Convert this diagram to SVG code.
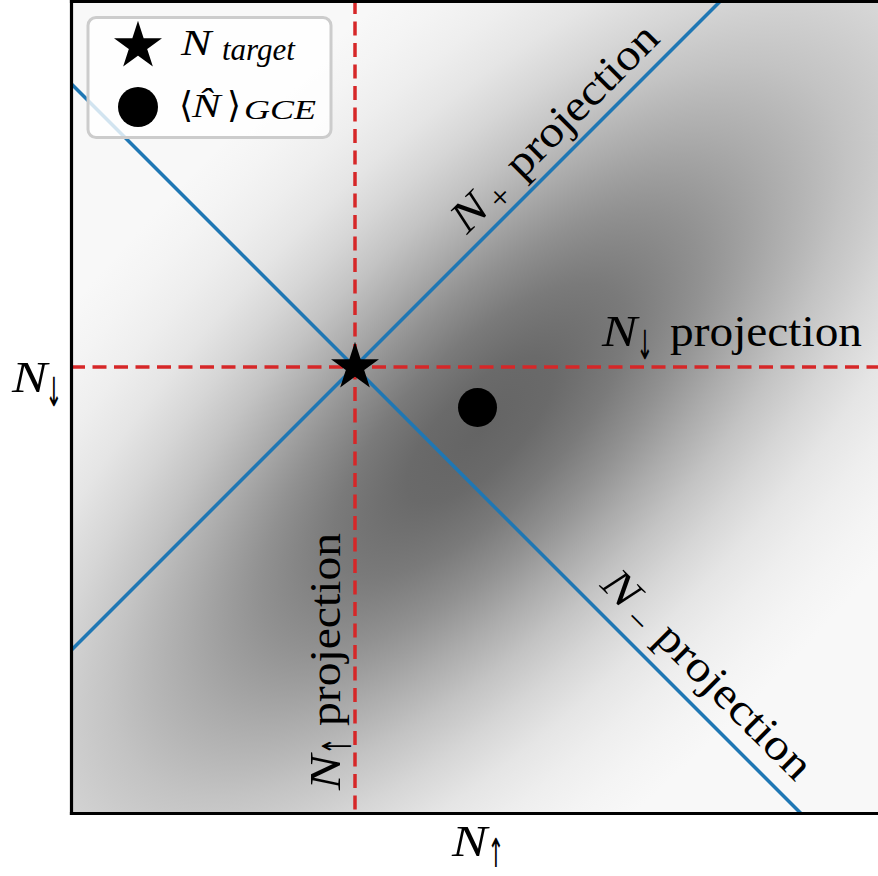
<svg xmlns="http://www.w3.org/2000/svg" width="878" height="876" viewBox="0 0 878 876">
<style>
text{font-family:"Liberation Serif","Times New Roman",serif}
.i{font-style:italic}
.ar{font-family:"DejaVu Sans",sans-serif}
.blue{stroke:#1f77b4;stroke-width:3.5;fill:none}
.red{stroke:#d62728;stroke-width:3.5;fill:none;stroke-dasharray:14 7.5}
.spine{stroke:#000;stroke-width:3.2;fill:none;stroke-linecap:square}
</style>
<defs>
<radialGradient id="g" gradientUnits="userSpaceOnUse" cx="0" cy="0" r="1" gradientTransform="translate(480 430) rotate(-45) scale(962 385)">
<stop offset="0" stop-color="#646464"/>
<stop offset="0.1" stop-color="#6a6a6a"/>
<stop offset="0.2" stop-color="#7a7a7a"/>
<stop offset="0.3" stop-color="#919191"/>
<stop offset="0.4" stop-color="#ababab"/>
<stop offset="0.5" stop-color="#c3c3c3"/>
<stop offset="0.6" stop-color="#d6d6d6"/>
<stop offset="0.7" stop-color="#e5e5e5"/>
<stop offset="0.8" stop-color="#eeeeee"/>
<stop offset="0.9" stop-color="#f4f4f4"/>
<stop offset="1" stop-color="#f8f8f8"/>
</radialGradient>
<clipPath id="ax"><rect x="71" y="1.5" width="807" height="812"/></clipPath>
<polygon id="star" points="0,-22 4.94,-6.8 20.92,-6.8 7.99,2.6 12.93,17.8 0,8.4 -12.93,17.8 -7.99,2.6 -20.92,-6.8 -4.94,-6.8" fill="#000" stroke="#000" stroke-width="2" stroke-linejoin="miter"/>
</defs>
<rect width="878" height="876" fill="#fff"/>
<rect id="density" x="71" y="1.5" width="807" height="812" fill="url(#g)"/>
<g id="connectors" clip-path="url(#ax)">
<line id="nplus-line" class="blue" x1="71" y1="650.5" x2="721.5" y2="0"/>
<line id="nminus-line" class="blue" x1="71" y1="83.5" x2="801.5" y2="814"/>
<line id="ndown-line" class="red" x1="71" y1="367" x2="878" y2="367"/>
<line id="nup-line" class="red" x1="355" y1="0" x2="355" y2="813"/>
</g>
<g id="target"><use href="#star" x="355" y="367"/></g>
<g id="gce"><circle cx="477.5" cy="407.5" r="19.5" fill="#000"/></g>
<g id="label-ndown-proj" transform="translate(602 346)">
<text class="i" transform="scale(1.2 1)" font-size="44">N</text>
<text class="ar" transform="translate(43 13) scale(0.5 1)" text-anchor="middle" font-size="40">↓</text>
<text x="68" y="0" font-size="44" textLength="192" lengthAdjust="spacingAndGlyphs">projection</text>
</g>
<g id="label-nup-proj" transform="translate(340 790) rotate(-90)">
<text class="i" transform="scale(1.2 1)" font-size="44">N</text>
<text class="ar" transform="translate(44 11) scale(0.5 1)" text-anchor="middle" font-size="40">↑</text>
<text x="64" y="0" font-size="44" textLength="193" lengthAdjust="spacingAndGlyphs">projection</text>
</g>
<g id="label-nplus-proj" transform="translate(467 235) rotate(-45)">
<text class="i" transform="scale(1.2 1)" font-size="44">N</text>
<text x="50" y="8" font-size="34" text-anchor="middle">+</text>
<text x="77" y="0" font-size="44" textLength="198" lengthAdjust="spacingAndGlyphs">projection</text>
</g>
<g id="label-nminus-proj" transform="translate(599 586) rotate(45)">
<text class="i" transform="scale(1.2 1)" font-size="44">N</text>
<text x="52" y="9" font-size="34" text-anchor="middle">−</text>
<text x="76" y="0" font-size="44" textLength="202" lengthAdjust="spacingAndGlyphs">projection</text>
</g>
<g id="axis-y" transform="translate(12 392)">
<text class="i" transform="scale(1.2 1)" font-size="44">N</text>
<text class="ar" transform="translate(42 14) scale(0.5 1)" text-anchor="middle" font-size="40">↓</text>
</g>
<g id="axis-x" transform="translate(452 856)">
<text class="i" transform="scale(1.2 1)" font-size="44">N</text>
<text class="ar" transform="translate(44 11) scale(0.5 1)" text-anchor="middle" font-size="40">↑</text>
</g>
<g id="spines">
<line class="spine" x1="71.5" y1="1.5" x2="71.5" y2="813.5"/>
<line class="spine" x1="71.5" y1="1.5" x2="880" y2="1.5"/>
<line class="spine" x1="71.5" y1="813.5" x2="880" y2="813.5"/>
</g>
<g id="legend">
<rect x="88" y="17.5" width="243" height="120" rx="8" fill="#fff" fill-opacity="0.8" stroke="#cccccc" stroke-width="3"/>
<use href="#star" x="138" y="46"/>
<circle cx="138" cy="107" r="20" fill="#000"/>
<text class="i" transform="translate(181 55) scale(1.3 1)" font-size="35">N</text>
<text class="i" x="222" y="60" font-size="31">target</text>
<text class="ar" x="179" y="117" font-size="36">⟨</text>
<text class="i" transform="translate(192 117) scale(1.3 1)" font-size="33">N&#x302;</text>
<text class="ar" x="227" y="117" font-size="36">⟩</text>
<text class="i" x="244" y="119" font-size="28" textLength="72" lengthAdjust="spacingAndGlyphs">GCE</text>
</g>
</svg>
